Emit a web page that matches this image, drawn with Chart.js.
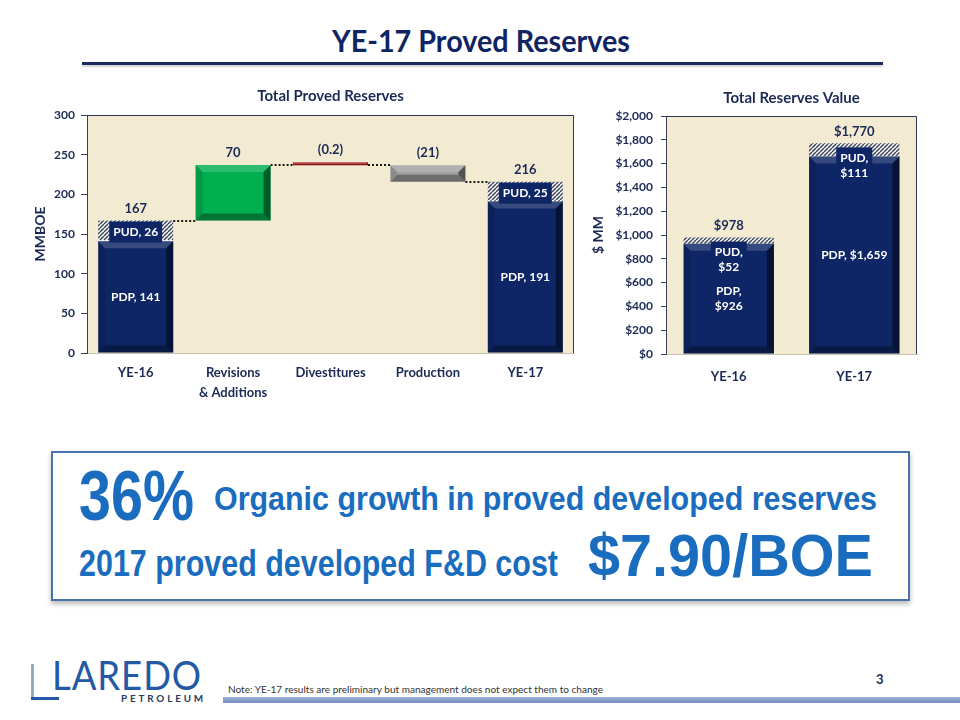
<!DOCTYPE html>
<html>
<head>
<meta charset="utf-8">
<script src="https://cdn.jsdelivr.net/npm/chart.js@4.4.1/dist/chart.umd.min.js"></script>
<style>
  html, body { margin: 0; padding: 0; background: #fff; }
  body { width: 960px; height: 720px; position: relative; overflow: hidden; font-family: Lato, 'Open Sans', sans-serif; }
  .abs { position: absolute; white-space: nowrap; }
  .fit { transform-origin: 0 0; line-height: 1; }
  #title { left: 332px; top: 25px; font-size: 30px; font-weight: 700; color: #0F2463; }
  #rule { left: 82px; top: 62px; width: 801px; height: 3px; background: #1B2B5E; box-shadow: 0 2px 2px rgba(0,0,0,0.18); }
  #wrapL { left: 0; top: 80px; }
  #wrapR { left: 560px; top: 80px; }
  #box { left: 51px; top: 451px; width: 855px; height: 146px; border: 2px solid #4873AC; box-shadow: 0 3px 5px rgba(0,0,0,0.28); }
  .blue { color: #1A6DBE; font-family: 'Liberation Sans Narrow', 'Arial Narrow', 'Liberation Sans', Arial, sans-serif; font-weight: 700; }
  #logo { left: 52px; top: 655px; font-size: 40px; font-weight: 400; color: #2459A5; letter-spacing: 1px; }
  #petro { left: 121px; top: 694px; font-size: 9px; font-weight: 700; color: #2B3A5E; letter-spacing: 2.6px; }
  #note { left: 228px; top: 685px; font-size: 9px; color: #333; }
  #pg { left: 876px; top: 671px; font-size: 13px; font-weight: 700; color: #1B2B5E; }
  #foot { left: 223px; top: 697px; width: 737px; height: 6px; background: linear-gradient(#9DB3D6, #6F8CBE); }
</style>
</head>
<body>
<div id="title" class="abs fit">YE-17 Proved Reserves</div>
<div id="rule" class="abs"></div>

<div id="wrapL" class="abs"><canvas id="chartReserves" width="584" height="330"></canvas></div>
<div id="wrapR" class="abs"><canvas id="chartValue" width="367" height="320"></canvas></div>

<div id="box" class="abs"></div>
<div id="t36" class="abs fit blue" style="left:79px;top:461px;font-size:70px;">36%</div>
<div id="tOrg" class="abs fit blue" style="left:214px;top:482px;font-size:33px;">Organic growth in proved developed reserves</div>
<div id="tFD" class="abs fit blue" style="left:79px;top:546px;font-size:36px;">2017 proved developed F&amp;D cost</div>
<div id="tBoe" class="abs fit blue" style="left:588px;top:526px;font-size:60px;">$7.90/BOE</div>

<div class="abs" style="left:31px;top:664px;width:3px;height:36px;background:#9AA7C0;"></div>
<div class="abs" style="left:31px;top:697px;width:28px;height:3px;background:#2459A5;"></div>
<div id="logo" class="abs fit">LAREDO</div>
<div id="petro" class="abs fit">PETROLEUM</div>
<div id="note" class="abs fit">Note: YE-17 results are preliminary but management does not expect them to change</div>
<div id="pg" class="abs">3</div>
<div id="foot" class="abs"></div>

<script>
// ---------- data ----------
const flowCategories = [['YE-16'], ['Revisions', '& Additions'], ['Divestitures'], ['Production'], ['YE-17']];
const pdpReserves = [141, null, null, null, 191];
const pudReserves = [26, null, null, null, 25];
const reserveChanges = [null, 70, -0.2, -21, null];
const reserveMax = 300;
const reserveStep = 50;

const valueCategories = ['YE-16', 'YE-17'];
const pdpValue = [926, 1659];
const pudValue = [52, 111];
const valueMax = 2000;
const valueStep = 200;

// ---------- styles ----------
const NAVY = '#0E2666';
const INK = '#1B2A55';
const PLOT_BG = '#F3EAD2';
const changeColors = [null, '#00B050', '#C0282D', '#A0A0A0', null];

Chart.defaults.font.family = 'Lato, "Open Sans", sans-serif';
Chart.defaults.color = INK;

function hatchPattern() {
  const c = document.createElement('canvas');
  c.width = c.height = 4;
  const g = c.getContext('2d');
  g.fillStyle = '#F4F4F4';
  g.fillRect(0, 0, 4, 4);
  g.strokeStyle = '#3B4256';
  g.lineWidth = 1.4;
  g.beginPath();
  for (let k = -4; k <= 8; k += 4) { g.moveTo(k, 4); g.lineTo(k + 4, 0); }
  g.stroke();
  return g.createPattern(c, 'repeat');
}
const HATCH = hatchPattern();

const fmtChange = (v) => v < 0 ? `(${Math.abs(v)})` : `${v}`;
const fmtMoney = (v) => '$' + v.toLocaleString('en-US');

// waterfall: running totals
let running = 0;
const changeBars = [];
const runningAfter = [];
flowCategories.forEach((_, i) => {
  if (pdpReserves[i] != null) {
    running = pdpReserves[i] + pudReserves[i];
    changeBars.push(null);
  } else {
    const start = running;
    running = +(running + reserveChanges[i]).toFixed(1);
    changeBars.push([Math.min(start, running), Math.max(start, running)]);
  }
  runningAfter.push(running);
});
const flowTotals = flowCategories.map((_, i) =>
  pdpReserves[i] != null ? String(pdpReserves[i] + pudReserves[i]) : fmtChange(reserveChanges[i]));
const valueTotals = valueCategories.map((_, i) => fmtMoney(pdpValue[i] + pudValue[i]));

// ---------- plugin: plot bg, bevels, labels, connectors ----------
function rectOf(el) {
  const p = el.getProps(['x', 'y', 'base', 'width'], true);
  return { L: p.x - p.width / 2, R: p.x + p.width / 2, T: Math.min(p.y, p.base), B: Math.max(p.y, p.base) };
}

function drawBevel(ctx, r) {
  const b = Math.min(7, (r.B - r.T) / 2, (r.R - r.L) / 2);
  const { L, R, T, B } = r;
  const faces = [
    [[L, T], [R, T], [R - b, T + b], [L + b, T + b], 'rgba(255,255,255,0.17)'],
    [[L, T], [L + b, T + b], [L + b, B - b], [L, B], 'rgba(0,0,0,0.12)'],
    [[L, B], [L + b, B - b], [R - b, B - b], [R, B], 'rgba(0,0,0,0.32)'],
    [[R, T], [R, B], [R - b, B - b], [R - b, T + b], 'rgba(0,0,0,0.48)'],
  ];
  faces.forEach(f => {
    ctx.beginPath();
    ctx.moveTo(f[0][0], f[0][1]);
    for (let k = 1; k < 4; k++) ctx.lineTo(f[k][0], f[k][1]);
    ctx.closePath();
    ctx.fillStyle = f[4];
    ctx.fill();
  });
}

const slidePlugin = {
  id: 'slide',
  beforeDraw(chart) {
    const { ctx, chartArea: a } = chart;
    ctx.save();
    ctx.fillStyle = PLOT_BG;
    ctx.fillRect(a.left, a.top, a.right - a.left, a.bottom - a.top);
    ctx.restore();
  },
  afterDatasetsDraw(chart, args, opts) {
    const { ctx, chartArea: a } = chart;
    const y = chart.scales.y;
    ctx.save();
    const tops = {};
    const rects = {};

    chart.data.datasets.forEach((ds, di) => {
      chart.getDatasetMeta(di).data.forEach((el, i) => {
        if (ds.data[i] == null) return;
        const r = rectOf(el);
        rects[i] = r;
        tops[i] = Math.min(tops[i] ?? Infinity, r.T);
        if (ds.bevel) drawBevel(ctx, r);
        if (ds.seam) {
          ctx.strokeStyle = '#FFFFFF';
          ctx.lineWidth = 1;
          ctx.setLineDash([2, 2]);
          ctx.beginPath();
          ctx.moveTo(r.L, Math.round(r.B) - 0.5);
          ctx.lineTo(r.R, Math.round(r.B) - 0.5);
          ctx.stroke();
          ctx.setLineDash([]);
        }
      });
    });

    // dotted connectors
    if (opts.connectors) {
      ctx.strokeStyle = '#1A1A1A';
      ctx.lineWidth = 2;
      ctx.setLineDash([2, 2]);
      for (let i = 0; i < opts.connectors.length - 1; i++) {
        if (!rects[i] || !rects[i + 1]) continue;
        const py = Math.round(y.getPixelForValue(opts.connectors[i]));
        ctx.beginPath();
        ctx.moveTo(rects[i].R, py);
        ctx.lineTo(rects[i + 1].L, py);
        ctx.stroke();
      }
      ctx.setLineDash([]);
    }

    // in-bar labels
    ctx.textAlign = 'center';
    ctx.textBaseline = 'middle';
    ctx.font = 'bold 12px Lato, "Open Sans", sans-serif';
    chart.data.datasets.forEach((ds, di) => {
      if (!ds.segLabels) return;
      chart.getDatasetMeta(di).data.forEach((el, i) => {
        const lines = ds.segLabels[i];
        if (!lines || ds.data[i] == null) return;
        const r = rectOf(el);
        const lh = 15;
        let cy = (r.T + r.B) / 2;
        if (ds.segBox) {
          const w = Math.max(...lines.map(s => ctx.measureText(s).width)) + 8;
          const h = lines.length * lh + 6;
          let top = Math.max(cy - h / 2, r.T + (ds.segClamp || 0));
          cy = top + h / 2;
          ctx.fillStyle = NAVY;
          ctx.fillRect((r.L + r.R) / 2 - w / 2, top, w, h);
        }
        ctx.fillStyle = '#FFFFFF';
        lines.forEach((s, k) => ctx.fillText(s, (r.L + r.R) / 2, cy + (k - (lines.length - 1) / 2) * lh));
      });
    });

    // totals above bars
    ctx.font = 'bold 13px Lato, "Open Sans", sans-serif';
    ctx.fillStyle = INK;
    (opts.totals || []).forEach((t, i) => {
      if (tops[i] == null || !rects[i]) return;
      ctx.fillText(t, (rects[i].L + rects[i].R) / 2, tops[i] - 12);
    });

    // plot frame (top, right)
    ctx.strokeStyle = '#2A3558';
    ctx.lineWidth = 1;
    ctx.beginPath();
    ctx.moveTo(a.left, a.top + 0.5);
    ctx.lineTo(a.right - 0.5, a.top + 0.5);
    ctx.lineTo(a.right - 0.5, a.bottom);
    ctx.stroke();
    ctx.restore();
  }
};

function yAxis(max, step, title, width, cb, tickLen, pad) {
  return {
    min: 0, max: max, stacked: false,
    afterFit: (s) => { s.width = width; },
    border: { display: true, color: '#3A3F55', width: 1 },
    grid: { drawOnChartArea: false, drawTicks: true, tickLength: tickLen, color: '#3A3F55' },
    ticks: { stepSize: step, padding: pad, color: INK, font: { size: 12, weight: 'bold' }, callback: cb },
    title: { display: true, text: title, color: INK, font: { size: 14, weight: 'bold' }, padding: { top: 4, bottom: 0 } }
  };
}

function xAxis(height, pad) {
  return {
    stacked: true,
    afterFit: (s) => { s.height = height; },
    border: { display: true, color: '#C9C2B0' },
    grid: { display: false, drawTicks: false },
    ticks: { padding: pad, color: INK, font: { size: 13, weight: 'bold', lineHeight: 1.54 } }
  };
}

// ---------- left: waterfall ----------
new Chart(document.getElementById('chartReserves'), {
  type: 'bar',
  plugins: [slidePlugin],
  data: {
    labels: flowCategories,
    datasets: [
      {
        label: 'PDP',
        data: pdpReserves.map(v => v == null ? null : [0, v]),
        backgroundColor: NAVY,
        bevel: true,
        segLabels: pdpReserves.map(v => v == null ? null : [`PDP, ${v}`]),
        barPercentage: 0.77, categoryPercentage: 1
      },
      {
        label: 'PUD',
        data: pudReserves.map((v, i) => v == null ? null : [pdpReserves[i], pdpReserves[i] + v]),
        backgroundColor: HATCH,
        seam: true,
        segBox: true, segClamp: 1,
        segLabels: pudReserves.map(v => v == null ? null : [`PUD, ${v}`]),
        barPercentage: 0.77, categoryPercentage: 1
      },
      {
        label: 'Change',
        data: changeBars,
        backgroundColor: changeColors,
        bevel: true,
        minBarLength: 3,
        barPercentage: 0.77, categoryPercentage: 1
      }
    ]
  },
  options: {
    responsive: false, animation: false,
    layout: { padding: { left: 28, right: 10, top: 0, bottom: 0 } },
    plugins: {
      legend: { display: false },
      tooltip: { enabled: false },
      title: { display: true, text: 'Total Proved Reserves', color: INK, fullSize: false,
               font: { size: 15, weight: 'bold' }, padding: { top: 7, bottom: 10 } },
      slide: { totals: flowTotals, connectors: runningAfter }
    },
    scales: {
      x: xAxis(57, 10),
      y: yAxis(reserveMax, reserveStep, 'MMBOE', 59, (v) => v, 6, 6)
    }
  }
});

// ---------- right: reserves value ----------
new Chart(document.getElementById('chartValue'), {
  type: 'bar',
  plugins: [slidePlugin],
  data: {
    labels: valueCategories,
    datasets: [
      {
        label: 'PDP',
        data: pdpValue,
        backgroundColor: NAVY,
        bevel: true,
        segLabels: pdpValue.map(v => v > 1000 ? [`PDP, ${fmtMoney(v)}`] : ['PDP,', fmtMoney(v)]),
        barPercentage: 0.72, categoryPercentage: 1
      },
      {
        label: 'PUD',
        data: pudValue,
        backgroundColor: HATCH,
        segBox: true, segClamp: 4,
        segLabels: pudValue.map(v => ['PUD,', fmtMoney(v)]),
        barPercentage: 0.72, categoryPercentage: 1
      }
    ]
  },
  options: {
    responsive: false, animation: false,
    layout: { padding: { left: 26, right: 10, top: 0, bottom: 0 } },
    plugins: {
      legend: { display: false },
      tooltip: { enabled: false },
      title: { display: true, text: 'Total Reserves Value', color: INK, fullSize: false,
               font: { size: 15, weight: 'bold' }, padding: { top: 9, bottom: 9 } },
      slide: { totals: valueTotals }
    },
    scales: {
      x: xAxis(46, 13),
      y: Object.assign(yAxis(valueMax, valueStep, '$ MM', 80, fmtMoney, 5, 8), { stacked: true })
    }
  }
});

// ---------- fit slide text to measured widths ----------
const fitTargets = { title: 298, t36: 115, tOrg: 663, tFD: 479, tBoe: 285, logo: 150, petro: 85, note: 375 };
Object.keys(fitTargets).forEach(id => {
  const el = document.getElementById(id);
  const w = el.getBoundingClientRect().width;
  if (w > 0) el.style.transform = `scaleX(${fitTargets[id] / w})`;
});
</script>
</body>
</html>
